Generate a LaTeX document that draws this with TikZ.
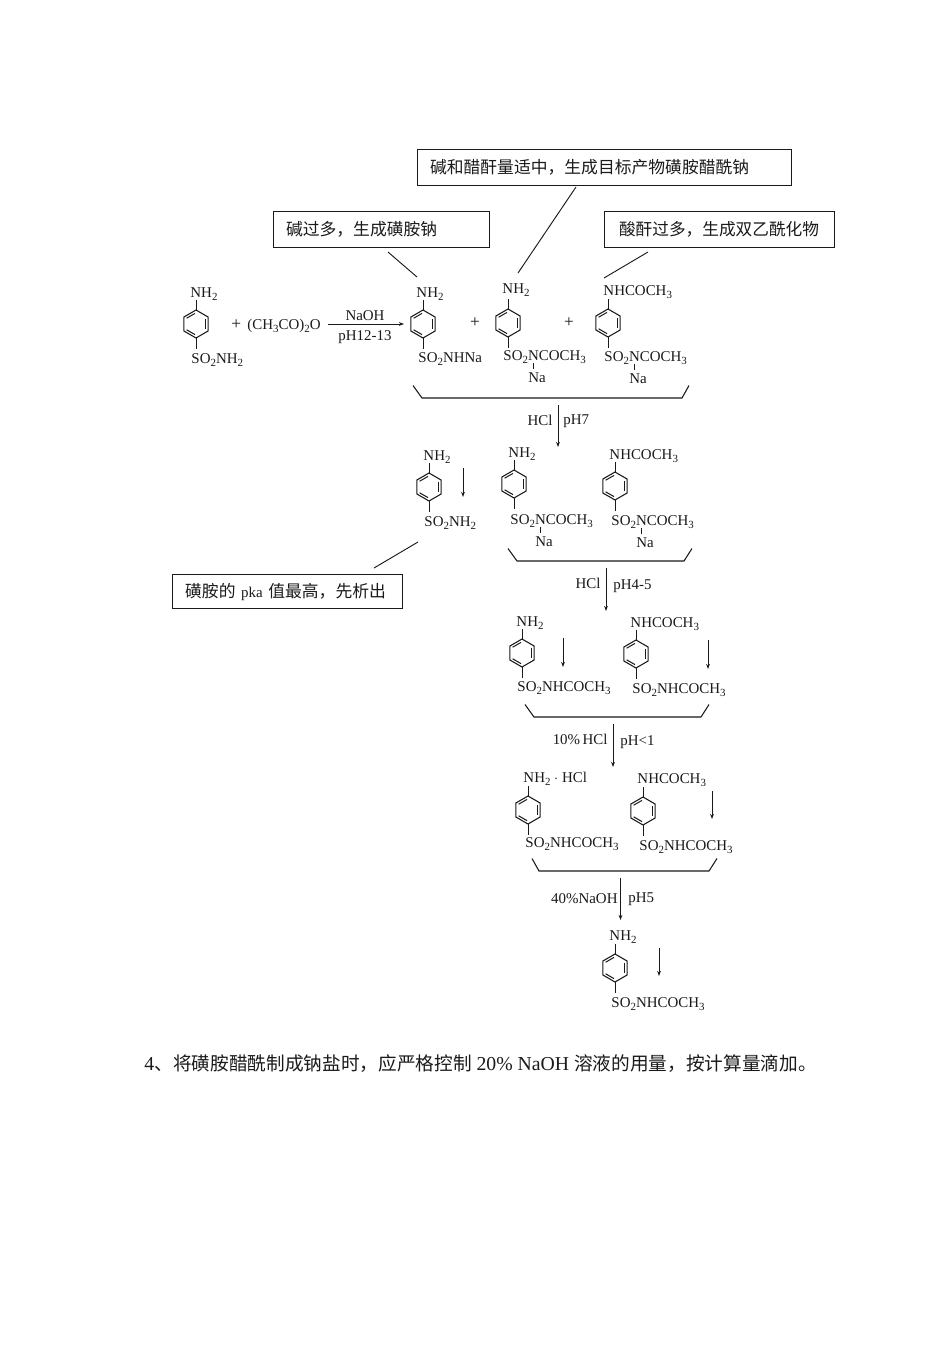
\documentclass[tikz,border=0pt]{standalone}
\usepackage{fontspec}
\setmainfont{Liberation Serif}
\newfontfamily\cjk{Noto Sans CJK SC}
\usetikzlibrary{arrows.meta}
\newcommand\sbs[1]{\raisebox{-0.36ex}{\fontsize{8.2}{9}\selectfont #1}}
\newcommand\NHtwo{NH\sbs{2}}
\newcommand\NHAc{NHCOCH\sbs{3}}
\newcommand\SOa{SO\sbs{2}NHCOCH\sbs{3}}
\newcommand\SOb{SO\sbs{2}NCOCH\sbs{3}}
\newcommand\SOc{SO\sbs{2}NH\sbs{2}}
\newcommand\SOd{SO\sbs{2}NHNa}
\definecolor{ink}{HTML}{1A1A1A}
\tikzset{
  x=0.75pt,y=-0.75pt,
  every path/.style={color=ink,line width=0.7pt},
  lbl/.style={inner sep=0pt,text=ink,font=\fontsize{11.2}{12}\selectfont,text height=7.4pt,text depth=0pt},
  lw/.style={lbl,anchor=west},
  le/.style={lbl,anchor=east},
  cbox/.style={draw=ink,line width=0.75pt,inner ysep=0pt,align=left,text=ink,font=\cjk\fontsize{12.6}{14}\selectfont},
  rarrow/.style={-{Stealth[length=3.8pt,width=2.8pt]},line width=0.65pt},
  brace/.style={line width=0.8pt,line join=miter}
}
% name, cx, cy, top text, left, y, bottom text, left, y
\newcommand\mol[9]{%
  \coordinate (#1c) at (#2,#3);
  \coordinate (#1ta) at (#2,#3-14);
  \coordinate (#1tb) at (#2,#3-24);
  \coordinate (#1ba) at (#2,#3+14);
  \coordinate (#1bb) at (#2,#3+25);
  \draw[line join=miter,line width=0.8pt] (#2,#3-14) -- (#2+12.1,#3-7) -- (#2+12.1,#3+7) -- (#2,#3+14) -- (#2-12.1,#3+7) -- (#2-12.1,#3-7) -- cycle;
  \draw[line width=0.75pt] (#2+9,#3-5) -- (#2+9,#3+5);
  \draw[line width=0.75pt] (#2-1,#3-10.6) -- (#2-9.4,#3-5.8);
  \draw[line width=0.75pt] (#2-1,#3+10.6) -- (#2-9.4,#3+5.8);
  \draw (#1ta) -- (#1tb);
  \draw (#1ba) -- (#1bb);
  \node[lw] (#1top) at (#5,#6) {#4};
  \node[lw] (#1bot) at (#8,#9) {#7};
}
\newcommand\nasalt[4]{% name, bond x, y of bond top, Na centre x
  \coordinate (#1na) at (#2,#3);
  \coordinate (#1nb) at (#2,#3+6);
  \draw (#1na) -- (#1nb);
  \node[lbl] (#1sod) at (#4,#3+14.5) {Na};
}
\newcommand\down[4]{% name, x, y1, y2
  \coordinate (#1a) at (#2,#3);
  \coordinate (#1b) at (#2,#4);
  \draw[rarrow] (#1a) -- (#1b);
}
\newcommand\brk[6]{% name, x1, x2, x3, x4, ytop
  \coordinate (#1a) at (#2,#6);
  \coordinate (#1b) at (#3,#6+12.5);
  \coordinate (#1c) at (#4,#6+12.5);
  \coordinate (#1d) at (#5,#6);
  \draw[brace] (#1a) -- (#1b) -- (#1c) -- (#1d);
}
\begin{document}
\begin{tikzpicture}
\useasboundingbox (0,0) rectangle (952,1347);
\fill[white] (0,0) rectangle (952,1347);

% callout boxes
\node[cbox,inner xsep=9.75pt,text width=261pt,minimum height=27.5pt] (b1) at (604,167.5) {碱和醋酐量适中，生成目标产物磺胺醋酰钠};
\node[cbox,inner xsep=9.75pt,text width=142.5pt,minimum height=27.5pt] (b2) at (381,229.5) {碱过多，生成磺胺钠};
\node[cbox,inner xsep=11.25pt,text width=150pt,minimum height=27.5pt,font=\cjk\fontsize{12.5}{14}\selectfont] (b3) at (719,229.5) {酸酐过多，生成双乙酰化物};
\node[cbox,inner xsep=9.75pt,text width=153.5pt,minimum height=25pt] (b4) at (287.5,591.5) {磺胺的{\rmfamily\fontsize{11.2}{14}\selectfont\ pka\ }值最高，先析出};

\coordinate (c1a) at (576,187); \coordinate (c1b) at (518,273);
\coordinate (c2a) at (388,252); \coordinate (c2b) at (417,277);
\coordinate (c3a) at (648,252); \coordinate (c3b) at (604,278);
\coordinate (c4a) at (418,542); \coordinate (c4b) at (374,568);
\draw (c1a) -- (c1b);
\draw (c2a) -- (c2b);
\draw (c3a) -- (c3b);
\draw (c4a) -- (c4b);

% row 1
\mol{m1}{196}{324}{\NHtwo}{190}{293}{\SOc}{191}{359}
\node[lw] (reag) at (231,325) {{\fontsize{13}{13}\selectfont +}\, (CH\sbs{3}CO)\sbs{2}O};
\coordinate (r1a) at (328,324); \coordinate (r1b) at (404,324);
\draw[rarrow] (r1a) -- (r1b);
\node[lbl] (r1t) at (365,316) {NaOH};
\node[lbl] (r1u) at (365,336) {pH12-13};
\mol{m2}{423}{324}{\NHtwo}{416}{293}{\SOd}{418}{358}
\node[lbl,font=\fontsize{13}{13}\selectfont] (p1) at (475,323) {+};
\mol{m3}{508}{323}{\NHtwo}{502}{289}{\SOb}{503}{356}
\nasalt{m3}{533}{363}{537}
\node[lbl,font=\fontsize{13}{13}\selectfont] (p2) at (569,323) {+};
\mol{m4}{608}{323}{\NHAc}{603}{291}{\SOb}{604}{357}
\nasalt{m4}{634}{364}{638}
\brk{k1}{413}{422}{682}{689}{385.5}
\down{a1}{558}{405}{447}
\node[le] (a1l) at (553,421) {HCl};
\node[lw] (a1r) at (563,420) {pH7};

% row 2
\mol{m5}{429}{487}{\NHtwo}{423}{456}{\SOc}{424}{522}
\down{d1}{463}{468}{497}
\mol{m6}{514}{484}{\NHtwo}{508}{453}{\SOb}{510}{520}
\nasalt{m6}{540}{527}{544}
\mol{m7}{615}{486}{\NHAc}{609}{455}{\SOb}{611}{521}
\nasalt{m7}{641}{528}{645}
\brk{k2}{508}{517}{684}{692}{548.5}
\down{a2}{606}{568}{611}
\node[le] (a2l) at (601,584) {HCl};
\node[lw] (a2r) at (613,585) {pH4-5};

% row 3
\mol{m8}{522}{653}{\NHtwo}{516}{622}{\SOa}{517}{687}
\down{d2}{563}{638}{667}
\mol{m9}{636}{654}{\NHAc}{630}{623}{\SOa}{632}{689}
\down{d3}{708}{640}{669}
\brk{k3}{525}{534}{701}{709}{704.5}
\down{a3}{613}{724}{767}
\node[le] (a3l) at (608,740) {10\%\,HCl};
\node[lw] (a3r) at (620,741) {pH<1};

% row 4
\mol{m10}{528}{810}{\NHtwo\ $\cdot$ HCl}{523}{778}{\SOa}{525}{843}
\mol{m11}{643}{811}{\NHAc}{637}{779}{\SOa}{639}{846}
\down{d4}{712}{791}{819}
\brk{k4}{532}{539}{709}{717}{858.5}
\down{a4}{620.5}{878}{920}
\node[le] (a4l) at (618,899) {40\%NaOH};
\node[lw] (a4r) at (628,898) {pH5};

% product
\mol{m12}{615}{968}{\NHtwo}{609}{936}{\SOa}{611}{1003}
\down{d5}{659}{948}{976}

% caption
\node[anchor=west,inner sep=0pt,text=ink,font=\fontsize{14.8}{16}\selectfont] (cap) at (144,1064) {4{\cjk\fontsize{14}{16}\selectfont 、将磺胺醋酰制成钠盐时，应严格控制} 20\% NaOH {\cjk\fontsize{14}{16}\selectfont 溶液的用量，按计算量滴加。}};
\end{tikzpicture}
\end{document}
